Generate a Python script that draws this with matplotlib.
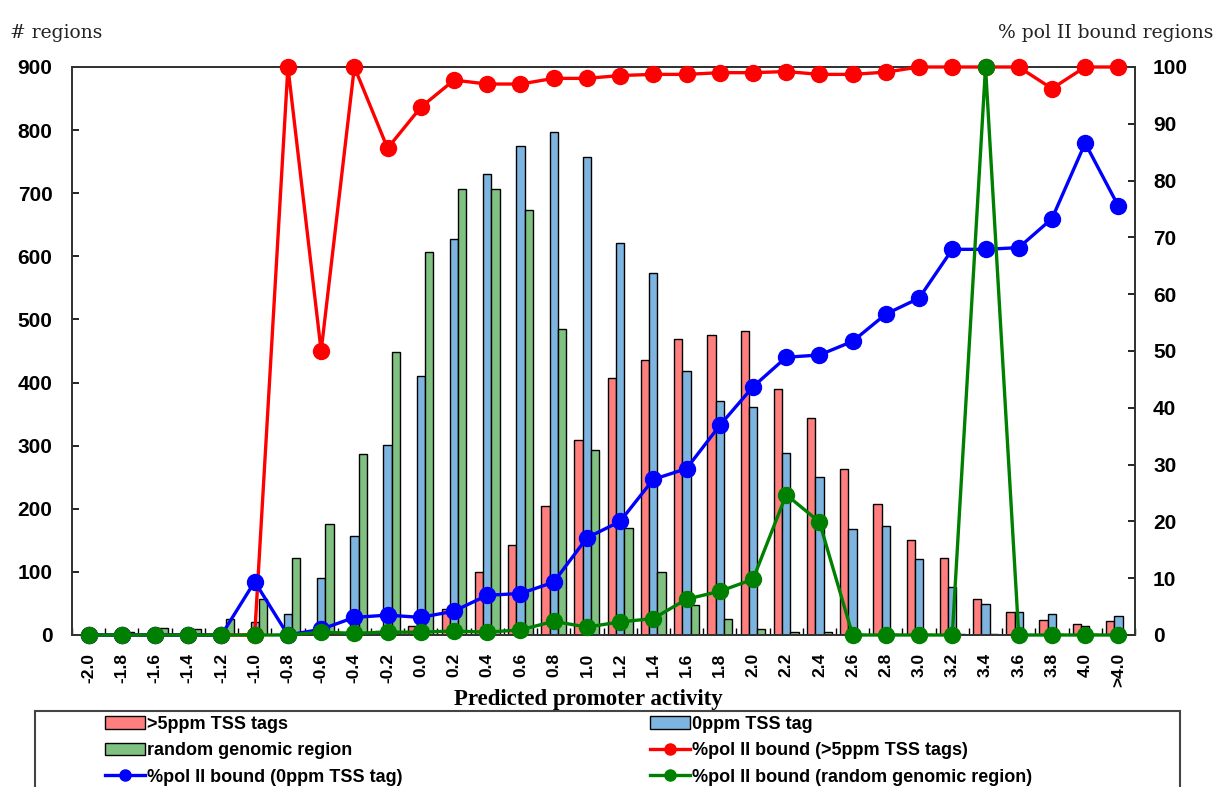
# promoter activity histogram with % pol II bound lines on a second axis
import numpy as np
import matplotlib
matplotlib.use('Agg')
import matplotlib.pyplot as plt
from matplotlib.lines import Line2D
from matplotlib.patches import Rectangle

plt.rcParams['font.family'] = ['Liberation Sans', 'DejaVu Sans']

# categories (predicted promoter activity bins)
categories = ['-2.0', '-1.8', '-1.6', '-1.4', '-1.2', '-1.0', '-0.8', '-0.6', '-0.4', '-0.2',
              '0.0', '0.2', '0.4', '0.6', '0.8', '1.0', '1.2', '1.4', '1.6', '1.8',
              '2.0', '2.2', '2.4', '2.6', '2.8', '3.0', '3.2', '3.4', '3.6', '3.8',
              '4.0', '>4.0']

# number of regions per bin
tss5_counts = [0, 0, 0, 0, 0, 1, 1, 2, 3, 7,
               14, 41, 100, 142, 204, 309, 408, 435, 469, 475,
               481, 389, 344, 263, 208, 150, 122, 57, 36, 24,
               18, 22]
tss0_counts = [1, 2, 3, 4, 5, 21, 34, 90, 157, 301,
               410, 627, 731, 775, 797, 758, 621, 574, 418, 371,
               362, 289, 250, 168, 173, 120, 76, 49, 36, 33,
               14, 30]
random_counts = [2, 5, 11, 9, 25, 57, 122, 176, 287, 449,
                 607, 706, 706, 673, 485, 293, 169, 100, 48, 26,
                 10, 4, 5, 1, 1, 1, 1, 1, 0, 1,
                 1, 0]

# % pol II bound per bin
tss5_pct = [0, 0, 0, 0, 0, 0, 100, 50, 100, 85.7,
            92.9, 97.7, 97.0, 97.0, 98.0, 98.0, 98.5, 98.7, 98.7, 99.0,
            99.0, 99.2, 98.7, 98.7, 99.1, 100, 100, 100, 100, 96.2,
            100, 100]
tss0_pct = [0, 0, 0, 0, 0, 9.4, 0, 1.0, 3.1, 3.5,
            3.1, 4.2, 7.0, 7.3, 9.3, 17.1, 20.0, 27.4, 29.3, 36.9,
            43.7, 48.9, 49.3, 51.7, 56.5, 59.3, 67.9, 67.9, 68.2, 73.3,
            86.6, 75.5]
random_pct = [0, 0, 0, 0, 0, 0, 0, 0.5, 0.3, 0.5,
              0.5, 0.7, 0.5, 0.9, 2.4, 1.4, 2.3, 2.9, 6.3, 7.7,
              9.8, 24.7, 19.9, 0, 0, 0, 0, 100, 0, 0,
              0, 0]

W, H = 1219, 787
fig = plt.figure(figsize=(W / 100, H / 100), dpi=100)
ax = fig.add_axes([72 / W, 1 - 635 / H, 1063 / W, 568 / H])

x = np.arange(len(categories))
w = 0.25
b_red = ax.bar(x - w, tss5_counts, w, color='#FF7F7F', edgecolor='black', linewidth=1)
b_blue = ax.bar(x, tss0_counts, w, color='#7DB5E0', edgecolor='black', linewidth=1)
b_green = ax.bar(x + w, random_counts, w, color='#80C080', edgecolor='black', linewidth=1)

ax.set_xlim(-0.5, len(categories) - 0.5)
ax.set_ylim(0, 900)
ax.set_yticks(range(0, 1000, 100))
ax.set_yticklabels([str(v) for v in range(0, 1000, 100)], fontsize=15, fontweight='bold')
ax.set_xticks(x)
ax.set_xticklabels(categories, rotation=90, fontsize=12.5, fontweight='bold')
ax.set_xticks(np.arange(-0.5, len(categories), 1), minor=True)
ax.tick_params(axis='x', which='major', length=0, pad=13)
ax.tick_params(axis='x', which='minor', direction='in', length=5, width=1)
ax.tick_params(axis='y', direction='in', length=5, width=1.2, pad=14)

ax2 = ax.twinx()
ax2.set_ylim(0, 100)
ax2.set_yticks(range(0, 110, 10))
ax2.set_yticklabels([str(v) for v in range(0, 110, 10)], fontsize=15, fontweight='bold')
ax2.tick_params(axis='y', direction='in', length=5, width=1.2, pad=13)

ax2.plot(x, tss5_pct, color='#FF0000', lw=2.4, marker='o', ms=11.5, clip_on=False, zorder=3)
ax2.plot(x, tss0_pct, color='#0000FF', lw=2.4, marker='o', ms=11.5, clip_on=False, zorder=4)
ax2.plot(x, random_pct, color='#008000', lw=2.4, marker='o', ms=11.5, clip_on=False, zorder=5)

for a in (ax, ax2):
    for s in a.spines.values():
        s.set_linewidth(1.3)
        s.set_color('#333333')

fig.text(10 / W, 1 - 33 / H, '# regions', family='DejaVu Serif', fontsize=13.5,
         ha='left', va='center', color='#222222')
fig.text(1213 / W, 1 - 33 / H, '% pol II bound regions', family='DejaVu Serif', fontsize=13.5,
         ha='right', va='center', color='#222222')
fig.text(588 / W, 1 - 700 / H, 'Predicted promoter activity', family='Liberation Serif',
         fontweight='bold', fontsize=16.5, ha='center', va='center')

# legend box (runs off the bottom of the figure)
fig.patches.append(Rectangle((35 / W, -0.05), (1180 - 35) / W, 1 - 711 / H + 0.05,
                             transform=fig.transFigure, fill=False, ec='#444444', lw=1.5))

h_redline = Line2D([], [], color='#FF0000', lw=2.4, marker='o', ms=8)
h_blueline = Line2D([], [], color='#0000FF', lw=2.4, marker='o', ms=8)
h_greenline = Line2D([], [], color='#008000', lw=2.4, marker='o', ms=8)

leg_kw = dict(loc='upper left', frameon=False, borderpad=0, borderaxespad=0,
              handlelength=2.2, handletextpad=0.15, labelspacing=0.52,
              prop={'weight': 'bold', 'size': 13})
fig.legend([b_red, b_green, h_blueline],
           ['>5ppm TSS tags', 'random genomic region', '%pol II bound (0ppm TSS tag)'],
           bbox_to_anchor=(105 / W, 1 - 716 / H), **leg_kw)
fig.legend([b_blue, h_redline, h_greenline],
           ['0ppm TSS tag', '%pol II bound (>5ppm TSS tags)', '%pol II bound (random genomic region)'],
           bbox_to_anchor=(650 / W, 1 - 716 / H), **leg_kw)

fig.savefig('out.png', dpi=100)
